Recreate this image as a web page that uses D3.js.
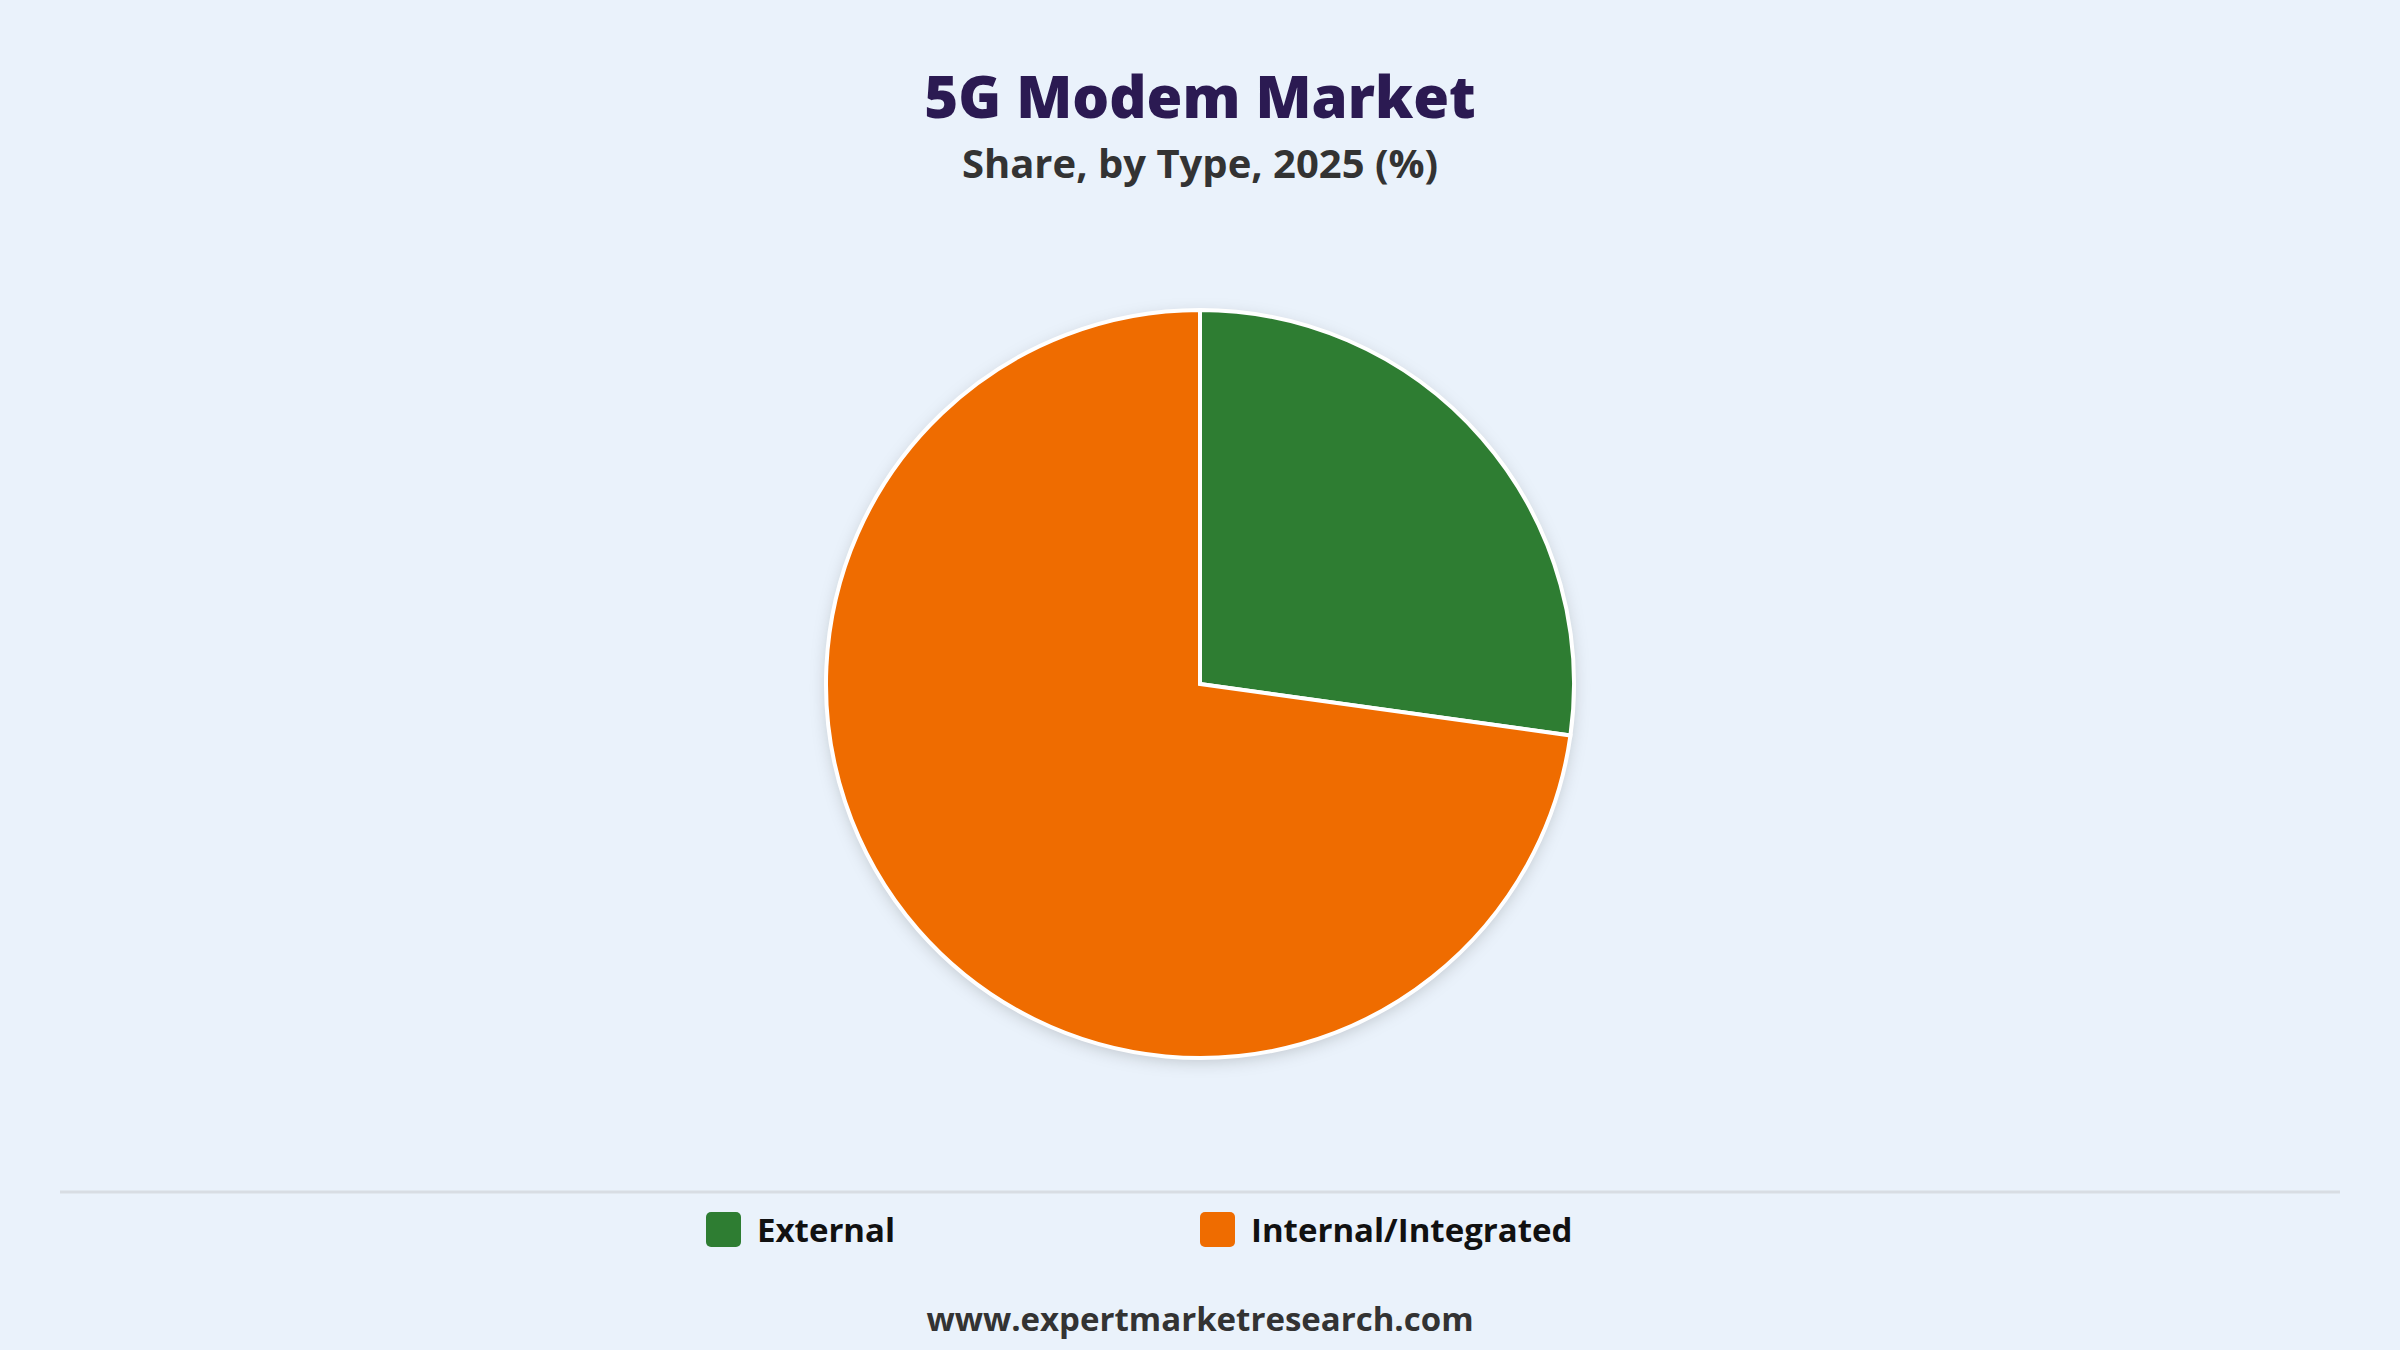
<!DOCTYPE html>
<html>
<head>
<meta charset="utf-8">
<script src="https://cdn.jsdelivr.net/npm/d3@7"></script>
<style>
  body { margin: 0; background: #eaf2fb; }
  svg { display: block; font-family: "Open Sans", "Noto Sans", sans-serif; }
</style>
</head>
<body>
<svg id="chart" width="2400" height="1350"></svg>
<script>
    // chart data
    var categories = ["External", "Internal/Integrated"];
    var shares = [27.2, 72.8];
    var colors = ["#2e7d32", "#ef6c00"];

    var svg = d3.select("#chart");
    var width = 2400, height = 1350;

    svg.append("rect").attr("width", width).attr("height", height).attr("fill", "#eaf2fb");

    // titles
    svg.append("text").attr("x", width / 2).attr("y", 118).attr("text-anchor", "middle")
        .attr("font-size", 58).attr("font-weight", 800).attr("fill", "#2b1a52")
        .text("5G Modem Market");
    svg.append("text").attr("x", width / 2).attr("y", 178).attr("text-anchor", "middle")
        .attr("font-size", 40).attr("font-weight", 700).attr("fill", "#333")
        .text("Share, by Type, 2025 (%)");

    // drop shadow
    var defs = svg.append("defs");
    var f = defs.append("filter").attr("id", "shadow").attr("x", "-20%").attr("y", "-20%")
        .attr("width", "140%").attr("height", "140%");
    f.append("feDropShadow").attr("dx", 0).attr("dy", 4).attr("stdDeviation", 8)
        .attr("flood-color", "#000").attr("flood-opacity", 0.18);

    // pie
    var radius = 374;
    var pie = d3.pie().sort(null).value(function (d) { return d; });
    var arc = d3.arc().innerRadius(0).outerRadius(radius);

    var g = svg.append("g").attr("transform", "translate(1200,684)");
    g.append("circle").attr("r", radius).attr("fill", "#fff").attr("filter", "url(#shadow)");
    g.selectAll("path").data(pie(shares)).enter().append("path")
        .attr("d", arc)
        .attr("fill", function (d, i) { return colors[i]; })
        .attr("stroke", "#fff").attr("stroke-width", 4);

    // legend separator
    svg.append("line").attr("x1", 60).attr("x2", 2340).attr("y1", 1192).attr("y2", 1192)
        .attr("stroke", "#d8dde3").attr("stroke-width", 3);

    var legendX = [706, 1200];
    var leg = svg.selectAll(".leg").data(categories).enter().append("g")
        .attr("transform", function (d, i) { return "translate(" + legendX[i] + ",1212)"; });
    leg.append("rect").attr("width", 35).attr("height", 35).attr("rx", 5)
        .attr("fill", function (d, i) { return colors[i]; });
    leg.append("text").attr("x", 51).attr("y", 30).attr("font-size", 33).attr("font-weight", 700)
        .attr("fill", "#111").text(function (d) { return d; });

    // footer
    svg.append("text").attr("x", width / 2).attr("y", 1331).attr("text-anchor", "middle")
        .attr("font-size", 33).attr("font-weight", 700).attr("fill", "#333")
        .text("www.expertmarketresearch.com");
</script>
</body>
</html>
